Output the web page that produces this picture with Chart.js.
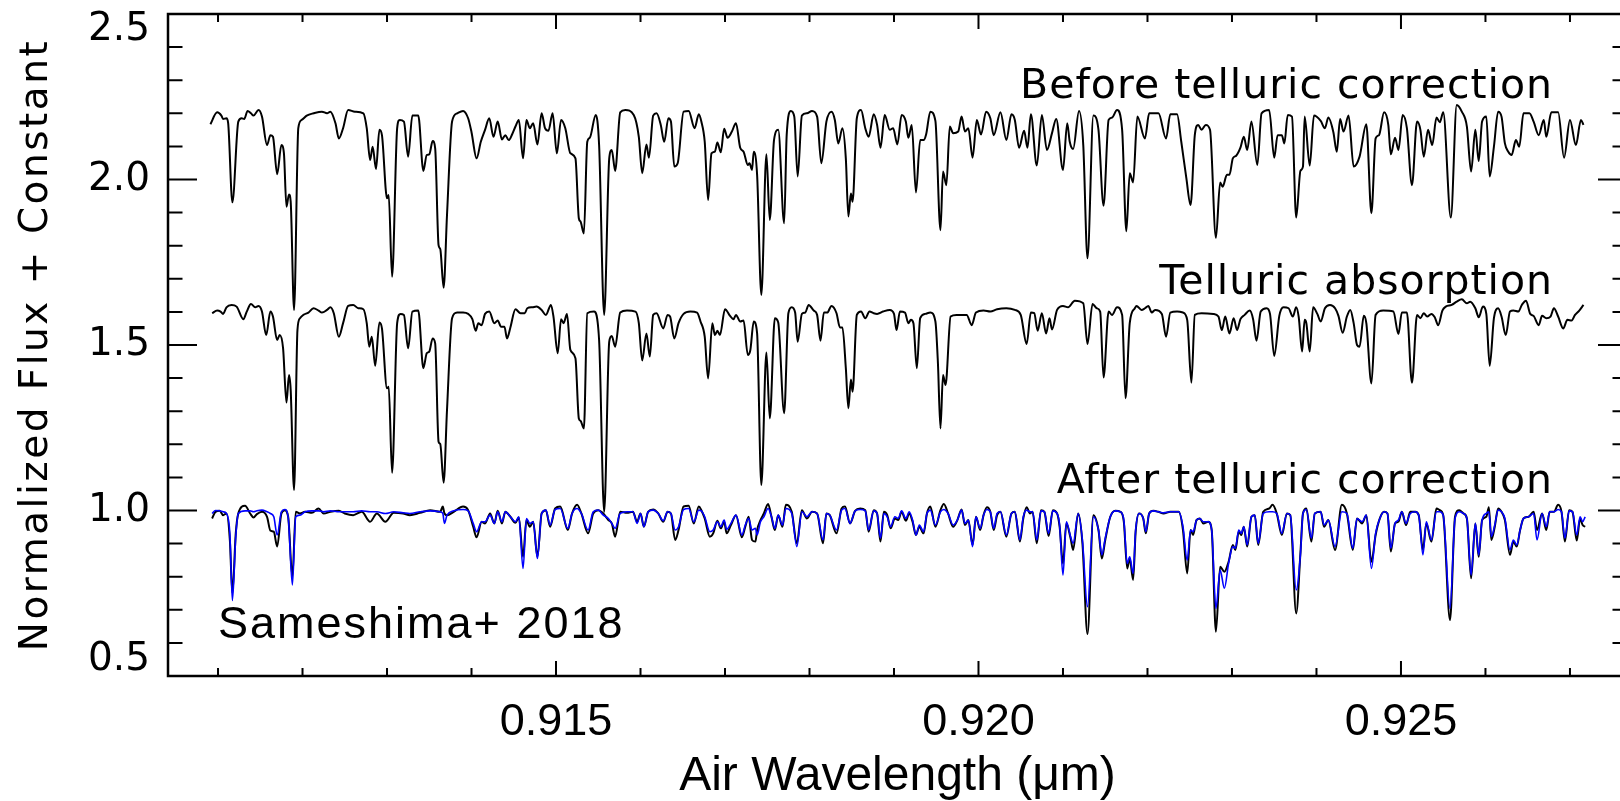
<!DOCTYPE html>
<html>
<head>
<meta charset="utf-8">
<title>Telluric correction</title>
<script src="https://cdn.jsdelivr.net/npm/chart.js@4.4.1/dist/chart.umd.min.js"></script>
<style>
  html, body { margin: 0; padding: 0; background: #fff; overflow: hidden; }
  #wrap { width: 1630px; height: 801px; }
</style>
</head>
<body>
<div id="wrap"><canvas id="spectrum" width="1630" height="801"></canvas></div>
<script>
// [air wavelength (um), normalized flux + constant]
const beforeCorrection = [
  [0.91091,2.167],[0.91099,2.203],[0.91104,2.193],[0.91106,2.183],[0.91110,2.185],[0.91112,2.170],[0.91117,1.931],[0.91124,2.175],
  [0.91128,2.185],[0.91131,2.183],[0.91135,2.207],[0.91139,2.200],[0.91142,2.193],[0.91148,2.210],[0.91152,2.190],[0.91158,2.104],
  [0.91162,2.134],[0.91165,2.129],[0.91170,2.016],[0.91175,2.104],[0.91178,2.079],[0.91181,1.918],[0.91184,1.955],[0.91186,1.933],
  [0.91190,1.606],[0.91195,2.155],[0.91199,2.180],[0.91205,2.193],[0.91213,2.200],[0.91223,2.205],[0.91229,2.200],[0.91233,2.205],
  [0.91239,2.170],[0.91243,2.124],[0.91248,2.155],[0.91254,2.210],[0.91262,2.205],[0.91272,2.200],[0.91276,2.155],[0.91280,2.059],
  [0.91283,2.099],[0.91287,2.032],[0.91291,2.150],[0.91294,2.134],[0.91300,1.943],[0.91302,1.953],[0.91306,1.706],[0.91312,2.155],
  [0.91315,2.180],[0.91320,2.175],[0.91325,2.069],[0.91330,2.193],[0.91337,2.193],[0.91343,2.026],[0.91347,2.074],[0.91350,2.076],
  [0.91354,2.116],[0.91357,2.094],[0.91361,1.802],[0.91363,1.790],[0.91367,1.673],[0.91371,1.893],[0.91377,2.175],[0.91383,2.200],
  [0.91390,2.207],[0.91396,2.185],[0.91400,2.143],[0.91406,2.064],[0.91411,2.114],[0.91416,2.150],[0.91421,2.185],[0.91426,2.129],
  [0.91431,2.175],[0.91436,2.121],[0.91440,2.134],[0.91444,2.119],[0.91448,2.136],[0.91452,2.160],[0.91456,2.180],[0.91461,2.064],
  [0.91465,2.180],[0.91469,2.155],[0.91473,2.170],[0.91478,2.106],[0.91483,2.200],[0.91487,2.155],[0.91491,2.147],[0.91496,2.200],
  [0.91501,2.079],[0.91506,2.180],[0.91511,2.155],[0.91517,2.079],[0.91523,2.064],[0.91527,1.883],[0.91529,1.873],[0.91533,1.837],
  [0.91537,2.114],[0.91540,2.126],[0.91547,2.195],[0.91551,2.104],[0.91557,1.591],[0.91563,2.064],[0.91566,2.089],[0.91570,2.026],
  [0.91576,2.203],[0.91582,2.210],[0.91592,2.195],[0.91598,2.129],[0.91602,2.019],[0.91607,2.106],[0.91610,2.066],[0.91615,2.193],
  [0.91619,2.200],[0.91624,2.165],[0.91628,2.114],
  [0.91633,2.185],[0.91636,2.175],[0.91640,2.039],[0.91644,2.049],[0.91651,2.205],[0.91657,2.207],[0.91664,2.155],[0.91669,2.197],
  [0.91672,2.175],[0.91676,2.114],[0.91680,1.938],[0.91684,2.079],[0.91688,2.084],[0.91691,2.112],[0.91695,2.082],[0.91699,2.153],
  [0.91703,2.126],[0.91708,2.144],[0.91713,2.170],[0.91718,2.096],[0.91722,2.084],[0.91727,2.044],[0.91729,2.049],[0.91732,2.029],
  [0.91734,2.084],[0.91738,2.014],[0.91743,1.651],[0.91749,2.076],[0.91753,1.878],[0.91758,2.119],[0.91763,2.150],[0.91770,1.868],
  [0.91773,2.134],[0.91778,2.207],[0.91782,2.190],[0.91786,2.009],[0.91791,2.193],[0.91797,2.200],[0.91803,2.207],[0.91809,2.190],
  [0.91814,2.049],[0.91820,2.175],[0.91826,2.205],[0.91830,2.180],[0.91834,2.109],[0.91839,2.155],[0.91843,2.064],[0.91846,1.888],
  [0.91849,1.958],[0.91851,1.933],[0.91856,2.185],[0.91861,2.210],[0.91866,2.155],[0.91870,2.129],[0.91876,2.197],[0.91880,2.165],
  [0.91884,2.096],[0.91889,2.195],[0.91895,2.150],[0.91899,2.155],[0.91904,2.106],[0.91909,2.195],[0.91914,2.175],[0.91917,2.126],
  [0.91921,2.165],[0.91926,1.961],[0.91931,2.119],[0.91935,2.119],[0.91938,2.136],[0.91943,2.205],[0.91949,2.177],[0.91955,1.847],
  [0.91958,2.024],[0.91962,1.983],[0.91966,2.160],[0.91970,2.140],[0.91976,2.145],[0.91980,2.190],[0.91984,2.145],[0.91988,2.155],
  [0.91993,2.066],[0.91998,2.180],[0.92003,2.136],[0.92009,2.205],[0.92014,2.185],[0.92018,2.134],[0.92026,2.203],[0.92033,2.119],
  [0.92039,2.197],[0.92043,2.180],[0.92048,2.096],[0.92054,2.147],[0.92058,2.096],[0.92062,2.197],[0.92069,2.042],[0.92075,2.195],
  [0.92081,2.089],[0.92087,2.140],[0.92092,2.183],[0.92100,2.029],[0.92105,2.170],[0.92108,2.114],[0.92112,2.092],[0.92119,2.207],
  [0.92124,2.104],[0.92129,1.762],[0.92136,2.193],[0.92142,2.150],[0.92148,1.921],[0.92154,2.180],[0.92158,2.187],[0.92164,2.210],
  [0.92170,2.150],[0.92175,1.844],[0.92179,2.019],[0.92183,1.991],
  [0.92188,2.190],[0.92197,2.124],[0.92202,2.200],[0.92213,2.200],[0.92222,2.124],[0.92227,2.197],[0.92235,2.197],[0.92240,2.114],
  [0.92246,2.004],[0.92251,1.923],[0.92256,2.134],[0.92260,2.165],[0.92264,2.150],[0.92269,2.165],[0.92274,2.150],[0.92281,1.824],
  [0.92286,1.991],[0.92289,1.978],[0.92294,2.014],[0.92297,2.014],[0.92301,2.064],[0.92305,2.072],[0.92310,2.096],[0.92314,2.129],
  [0.92318,2.089],[0.92323,2.175],[0.92330,2.044],[0.92335,2.200],[0.92344,2.210],[0.92350,2.066],[0.92354,2.134],[0.92359,2.134],
  [0.92362,2.109],[0.92366,2.195],[0.92371,2.190],[0.92376,1.885],[0.92381,2.026],[0.92384,2.039],[0.92386,2.190],[0.92392,2.042],
  [0.92397,2.193],[0.92405,2.177],[0.92410,2.155],[0.92414,2.187],[0.92420,2.143],[0.92424,2.084],[0.92428,2.183],[0.92432,2.145],
  [0.92438,2.193],[0.92444,2.039],[0.92451,2.069],[0.92459,2.167],[0.92465,1.898],[0.92470,2.124],[0.92474,2.134],[0.92480,2.203],
  [0.92485,2.165],[0.92488,2.076],[0.92493,2.126],[0.92497,2.089],[0.92502,2.195],[0.92507,2.155],[0.92513,1.983],[0.92519,2.175],
  [0.92523,2.150],[0.92527,2.069],[0.92532,2.150],[0.92537,2.104],[0.92542,2.187],[0.92546,2.173],[0.92550,2.203],[0.92559,1.885],
  [0.92566,2.225],[0.92572,2.205],[0.92578,2.160],[0.92583,2.024],[0.92588,2.150],[0.92592,2.056],[0.92596,2.175],[0.92601,2.190],
  [0.92605,2.009],[0.92610,2.099],[0.92615,2.205],[0.92619,2.190],[0.92623,2.109],[0.92627,2.084],[0.92631,2.074],[0.92636,2.119],
  [0.92640,2.099],[0.92645,2.200],[0.92652,2.200],[0.92657,2.175],[0.92663,2.134],[0.92669,2.180],[0.92672,2.129],[0.92678,2.203],
  [0.92686,2.203],[0.92693,2.066],[0.92700,2.180],[0.92707,2.104],[0.92713,2.180],[0.92716,2.165]
];

const telluricAbsorption = [
  [0.91093,1.596],[0.91099,1.604],[0.91103,1.601],[0.91106,1.594],[0.91110,1.614],[0.91116,1.621],[0.91122,1.616],[0.91130,1.578],
  [0.91134,1.601],[0.91139,1.624],[0.91144,1.614],[0.91148,1.618],[0.91152,1.601],[0.91157,1.530],[0.91162,1.601],[0.91165,1.586],
  [0.91170,1.515],[0.91173,1.530],[0.91177,1.490],[0.91181,1.326],[0.91184,1.409],[0.91186,1.364],[0.91190,1.062],[0.91194,1.545],
  [0.91197,1.581],[0.91201,1.591],[0.91207,1.598],[0.91213,1.611],[0.91219,1.604],[0.91223,1.598],[0.91229,1.606],[0.91233,1.614],
  [0.91237,1.596],[0.91243,1.525],[0.91248,1.566],[0.91254,1.618],[0.91260,1.621],[0.91266,1.611],[0.91272,1.608],[0.91276,1.566],
  [0.91279,1.495],[0.91282,1.525],[0.91286,1.437],[0.91291,1.568],[0.91294,1.550],[0.91300,1.369],[0.91302,1.374],[0.91306,1.114],
  [0.91312,1.566],[0.91316,1.594],[0.91320,1.591],[0.91325,1.490],[0.91330,1.601],[0.91337,1.604],[0.91343,1.430],[0.91347,1.475],
  [0.91350,1.480],[0.91354,1.520],[0.91357,1.505],[0.91361,1.208],[0.91363,1.201],[0.91367,1.084],[0.91371,1.304],[0.91377,1.581],
  [0.91383,1.598],[0.91390,1.598],[0.91396,1.594],[0.91401,1.578],[0.91405,1.543],[0.91408,1.566],[0.91412,1.560],[0.91416,1.594],
  [0.91421,1.601],[0.91427,1.566],[0.91431,1.574],[0.91435,1.555],[0.91439,1.555],[0.91442,1.520],[0.91446,1.553],[0.91452,1.608],
  [0.91458,1.596],[0.91463,1.596],[0.91466,1.611],[0.91472,1.614],[0.91477,1.616],[0.91483,1.606],[0.91488,1.591],[0.91494,1.621],
  [0.91497,1.586],[0.91502,1.475],[0.91506,1.578],[0.91509,1.566],[0.91513,1.594],[0.91517,1.485],[0.91523,1.460],[0.91527,1.278],
  [0.91529,1.271],[0.91533,1.248],[0.91537,1.596],[0.91545,1.601],[0.91551,1.515],[0.91557,0.996],[0.91563,1.510],[0.91566,1.527],
  [0.91570,1.495],[0.91576,1.598],[0.91584,1.604],[0.91594,1.601],[0.91598,1.566],[0.91602,1.453],[0.91607,1.535],[0.91611,1.465],
  [0.91615,1.591],[0.91619,1.596],[0.91627,1.550],
  [0.91632,1.591],[0.91635,1.586],[0.91640,1.520],[0.91645,1.566],[0.91651,1.594],[0.91659,1.601],[0.91667,1.598],[0.91671,1.571],
  [0.91676,1.525],[0.91680,1.399],[0.91685,1.566],[0.91688,1.530],[0.91691,1.543],[0.91694,1.530],[0.91700,1.608],[0.91706,1.588],
  [0.91710,1.578],[0.91713,1.591],[0.91718,1.571],[0.91722,1.574],[0.91727,1.470],[0.91730,1.485],[0.91734,1.571],[0.91738,1.535],
  [0.91743,1.077],[0.91749,1.477],[0.91753,1.278],[0.91759,1.581],[0.91763,1.568],[0.91770,1.294],[0.91775,1.596],[0.91779,1.614],
  [0.91783,1.598],[0.91786,1.510],[0.91791,1.594],[0.91795,1.598],[0.91799,1.621],[0.91805,1.604],[0.91809,1.591],[0.91813,1.513],
  [0.91817,1.598],[0.91821,1.598],[0.91826,1.618],[0.91832,1.596],[0.91836,1.553],[0.91839,1.553],[0.91843,1.430],[0.91846,1.309],
  [0.91849,1.396],[0.91851,1.359],[0.91856,1.591],[0.91861,1.601],[0.91866,1.581],[0.91871,1.601],[0.91876,1.596],[0.91880,1.594],
  [0.91887,1.601],[0.91895,1.606],[0.91900,1.594],[0.91903,1.545],[0.91907,1.601],[0.91913,1.598],[0.91917,1.566],[0.91920,1.576],
  [0.91923,1.566],[0.91927,1.430],[0.91931,1.581],[0.91937,1.594],[0.91943,1.598],[0.91949,1.571],[0.91952,1.445],[0.91955,1.248],
  [0.91958,1.409],[0.91961,1.379],[0.91967,1.586],[0.91974,1.591],[0.91980,1.591],[0.91986,1.591],[0.91992,1.560],[0.91997,1.598],
  [0.92006,1.604],[0.92014,1.601],[0.92022,1.608],[0.92033,1.611],[0.92043,1.606],[0.92050,1.591],[0.92057,1.503],[0.92062,1.598],
  [0.92066,1.596],[0.92070,1.543],[0.92075,1.596],[0.92080,1.535],[0.92084,1.581],[0.92087,1.547],[0.92093,1.606],[0.92100,1.618],
  [0.92106,1.614],[0.92114,1.634],[0.92124,1.626],[0.92129,1.503],[0.92135,1.624],[0.92140,1.611],[0.92144,1.601],[0.92148,1.402],
  [0.92154,1.601],[0.92158,1.591],[0.92164,1.614],[0.92170,1.591],[0.92174,1.339],[0.92179,1.566],[0.92185,1.611],
  [0.92187,1.618],[0.92193,1.606],[0.92197,1.611],[0.92201,1.618],[0.92205,1.598],[0.92209,1.606],[0.92217,1.594],[0.92222,1.525],
  [0.92227,1.598],[0.92235,1.601],[0.92242,1.598],[0.92247,1.576],[0.92252,1.386],[0.92256,1.591],[0.92264,1.596],[0.92278,1.594],
  [0.92284,1.586],[0.92288,1.545],[0.92292,1.586],[0.92297,1.535],[0.92302,1.581],[0.92306,1.545],[0.92310,1.578],[0.92315,1.591],
  [0.92321,1.604],[0.92325,1.578],[0.92329,1.513],[0.92334,1.601],[0.92341,1.611],[0.92345,1.594],[0.92350,1.467],[0.92356,1.588],
  [0.92361,1.614],[0.92367,1.611],[0.92372,1.586],[0.92376,1.614],[0.92379,1.584],[0.92383,1.480],[0.92386,1.576],[0.92388,1.566],
  [0.92392,1.480],[0.92396,1.614],[0.92401,1.594],[0.92405,1.571],[0.92410,1.611],[0.92416,1.621],[0.92422,1.611],[0.92426,1.588],
  [0.92431,1.537],[0.92436,1.586],[0.92440,1.606],[0.92444,1.566],[0.92448,1.500],[0.92451,1.495],[0.92456,1.588],[0.92459,1.566],
  [0.92465,1.384],[0.92470,1.591],[0.92479,1.604],[0.92491,1.601],[0.92497,1.533],[0.92501,1.598],[0.92507,1.598],[0.92513,1.386],
  [0.92519,1.591],[0.92523,1.581],[0.92527,1.596],[0.92531,1.586],[0.92536,1.594],[0.92540,1.584],[0.92544,1.560],[0.92549,1.604],
  [0.92553,1.616],[0.92560,1.621],[0.92566,1.631],[0.92572,1.638],[0.92578,1.626],[0.92582,1.631],[0.92588,1.611],[0.92592,1.584],
  [0.92597,1.616],[0.92601,1.594],[0.92605,1.437],[0.92610,1.581],[0.92615,1.611],[0.92619,1.586],[0.92624,1.530],[0.92629,1.601],
  [0.92633,1.604],[0.92639,1.601],[0.92643,1.621],[0.92648,1.634],[0.92653,1.594],[0.92657,1.588],[0.92663,1.560],[0.92667,1.588],
  [0.92672,1.581],[0.92677,1.586],[0.92681,1.611],[0.92686,1.586],[0.92692,1.550],[0.92697,1.576],[0.92702,1.574],[0.92706,1.591],
  [0.92711,1.604],[0.92716,1.621]
];

const afterCorrection = [
  [0.91093,0.976],[0.91097,0.996],[0.91102,0.999],[0.91106,0.986],[0.91110,0.991],[0.91114,0.911],[0.91117,0.750],[0.91121,0.931],
  [0.91124,0.991],[0.91132,1.014],[0.91138,0.991],[0.91142,0.979],[0.91146,0.989],[0.91152,0.996],[0.91158,0.981],[0.91162,0.939],
  [0.91166,0.936],[0.91170,0.891],[0.91175,0.991],[0.91179,1.001],[0.91183,0.981],[0.91188,0.800],[0.91192,0.996],[0.91197,0.991],
  [0.91203,0.996],[0.91211,0.993],[0.91219,1.006],[0.91225,0.991],[0.91233,0.996],[0.91243,0.999],[0.91250,0.991],[0.91260,0.986],
  [0.91270,0.996],[0.91280,0.966],[0.91288,0.991],[0.91298,0.966],[0.91308,0.993],[0.91319,0.991],[0.91327,0.986],[0.91339,0.993],
  [0.91351,1.001],[0.91363,0.996],[0.91366,1.012],[0.91368,0.991],[0.91371,0.986],[0.91379,0.996],[0.91390,1.012],[0.91396,1.001],
  [0.91402,0.951],[0.91406,0.919],[0.91412,0.966],[0.91416,0.961],[0.91422,0.991],[0.91427,0.961],[0.91431,0.999],[0.91436,0.961],
  [0.91440,0.996],[0.91446,0.981],[0.91452,0.963],[0.91456,0.979],[0.91461,0.860],[0.91465,0.971],[0.91469,0.951],[0.91473,0.966],
  [0.91478,0.860],[0.91483,0.991],[0.91488,1.001],[0.91493,0.951],[0.91499,1.006],[0.91505,1.012],[0.91514,0.941],[0.91519,0.991],
  [0.91525,1.017],[0.91530,0.991],[0.91538,0.931],[0.91544,0.991],[0.91550,1.001],[0.91556,0.991],[0.91562,0.971],[0.91566,0.961],
  [0.91570,0.921],[0.91576,0.996],[0.91584,0.993],[0.91591,0.996],[0.91596,0.966],[0.91600,0.991],[0.91604,0.951],[0.91609,0.996],
  [0.91615,1.003],[0.91621,0.991],[0.91627,0.966],
  [0.91632,0.996],[0.91636,0.991],[0.91641,0.911],[0.91645,0.941],[0.91651,1.012],[0.91657,1.014],[0.91663,0.961],[0.91669,1.012],
  [0.91672,1.001],[0.91676,0.976],[0.91682,0.921],[0.91686,0.931],[0.91691,0.969],[0.91695,0.946],[0.91699,0.966],[0.91702,0.931],
  [0.91707,0.956],[0.91713,0.986],[0.91720,0.919],[0.91724,0.951],[0.91728,0.981],[0.91732,0.911],[0.91736,0.906],[0.91738,0.941],
  [0.91742,0.971],[0.91746,0.991],[0.91751,1.020],[0.91755,0.981],[0.91759,0.941],[0.91763,0.986],[0.91768,0.951],[0.91772,1.017],
  [0.91779,0.996],[0.91785,0.901],[0.91791,1.001],[0.91797,0.976],[0.91803,0.996],[0.91809,0.991],[0.91816,0.901],[0.91820,0.991],
  [0.91824,0.986],[0.91832,0.931],[0.91838,1.006],[0.91842,1.012],[0.91848,0.961],[0.91854,0.999],[0.91860,1.006],[0.91866,1.001],
  [0.91870,0.936],[0.91876,1.001],[0.91880,0.991],[0.91884,0.906],[0.91888,0.996],[0.91892,0.986],[0.91896,0.946],[0.91901,0.976],
  [0.91905,0.971],[0.91909,0.996],[0.91914,0.969],[0.91918,0.991],[0.91922,0.966],[0.91926,0.926],[0.91930,0.951],[0.91935,0.931],
  [0.91939,0.991],[0.91943,1.012],[0.91949,0.951],[0.91955,1.001],[0.91959,1.020],[0.91964,0.991],[0.91970,0.951],[0.91975,0.971],
  [0.91980,1.003],[0.91984,0.956],[0.91988,0.971],[0.91993,0.896],[0.91997,0.981],[0.92002,0.941],[0.92006,0.986],[0.92010,1.010],
  [0.92014,0.996],[0.92018,0.941],[0.92022,0.986],[0.92026,0.996],[0.92033,0.921],[0.92039,0.991],[0.92043,0.996],[0.92049,0.906],
  [0.92053,0.976],[0.92057,1.010],[0.92061,0.991],[0.92064,0.996],[0.92069,0.901],[0.92074,1.001],[0.92078,0.996],[0.92083,0.923],
  [0.92088,1.001],[0.92093,0.991],[0.92096,0.951],[0.92100,0.840],[0.92104,0.961],[0.92109,0.916],[0.92112,0.881],[0.92118,0.991],
  [0.92123,0.901],[0.92129,0.627],[0.92136,0.986],[0.92142,0.941],[0.92146,0.855],[0.92150,0.911],[0.92156,0.981],[0.92162,0.999],
  [0.92168,0.996],[0.92172,0.966],[0.92176,0.825],[0.92179,0.855],[0.92183,0.790],
  [0.92186,0.936],[0.92190,0.991],[0.92195,0.976],[0.92198,0.931],[0.92202,0.991],[0.92207,0.999],[0.92213,0.996],[0.92219,0.991],
  [0.92227,0.996],[0.92237,0.996],[0.92242,0.941],[0.92247,0.810],[0.92251,0.941],[0.92254,0.926],[0.92258,0.971],[0.92262,0.976],
  [0.92266,0.961],[0.92272,0.966],[0.92276,0.941],[0.92281,0.634],[0.92286,0.830],[0.92291,0.815],[0.92296,0.845],[0.92301,0.896],
  [0.92304,0.881],[0.92308,0.936],[0.92311,0.926],[0.92314,0.951],[0.92318,0.891],[0.92323,0.981],[0.92327,0.986],[0.92331,0.896],
  [0.92337,0.996],[0.92344,1.006],[0.92348,1.017],[0.92353,0.991],[0.92359,0.926],[0.92365,0.991],[0.92369,0.986],[0.92376,0.689],
  [0.92381,0.871],[0.92384,0.991],[0.92388,1.006],[0.92394,0.906],[0.92398,0.991],[0.92405,0.996],[0.92409,0.951],[0.92414,0.971],
  [0.92422,0.881],[0.92430,1.017],[0.92436,0.991],[0.92443,0.881],[0.92448,0.976],[0.92454,0.961],[0.92459,0.986],[0.92465,0.845],
  [0.92470,0.926],[0.92475,0.976],[0.92480,0.996],[0.92484,0.991],[0.92488,0.876],[0.92493,0.961],[0.92497,0.966],[0.92501,0.996],
  [0.92506,0.956],[0.92511,0.996],[0.92517,0.996],[0.92521,0.986],[0.92526,0.881],[0.92530,0.961],[0.92536,0.906],[0.92542,1.006],
  [0.92546,1.001],[0.92550,0.986],[0.92558,0.669],[0.92564,0.981],[0.92569,1.001],[0.92574,0.991],[0.92578,0.976],[0.92583,0.795],
  [0.92588,0.961],[0.92592,0.860],[0.92596,0.971],[0.92601,0.981],[0.92604,1.010],[0.92607,0.911],[0.92611,0.951],[0.92615,1.006],
  [0.92619,0.996],[0.92623,0.971],[0.92629,0.866],[0.92633,0.906],[0.92637,0.891],[0.92641,0.941],[0.92645,0.976],[0.92651,0.981],
  [0.92657,0.996],[0.92661,0.941],[0.92667,0.991],[0.92672,0.941],[0.92676,0.996],[0.92681,0.996],[0.92686,1.017],[0.92690,0.996],
  [0.92694,0.906],[0.92699,1.001],[0.92703,0.996],[0.92708,0.909],[0.92712,0.976],[0.92715,0.956],[0.92718,0.951]
];

// blue curve over the corrected spectrum
const afterModel = [
  [0.91093,0.991],[0.91097,1.000],[0.91102,0.999],[0.91106,0.996],[0.91110,0.991],[0.91114,0.931],[0.91117,0.728],[0.91121,0.921],
  [0.91124,0.991],[0.91132,0.999],[0.91138,0.999],[0.91142,0.996],[0.91146,0.999],[0.91152,1.001],[0.91158,0.996],[0.91162,0.991],
  [0.91166,0.981],[0.91170,0.926],[0.91175,0.996],[0.91179,1.003],[0.91183,0.981],[0.91188,0.775],[0.91192,0.981],[0.91197,0.986],
  [0.91203,0.996],[0.91211,0.999],[0.91219,0.999],[0.91225,0.996],[0.91233,0.999],[0.91243,0.996],[0.91250,0.996],[0.91260,0.996],
  [0.91270,0.999],[0.91280,0.996],[0.91288,0.996],[0.91298,0.991],[0.91308,0.996],[0.91319,0.993],[0.91327,0.991],[0.91339,0.996],
  [0.91351,0.999],[0.91363,0.996],[0.91366,0.991],[0.91368,0.961],[0.91371,0.986],[0.91379,0.999],[0.91390,1.003],[0.91396,0.999],
  [0.91402,0.961],[0.91406,0.936],[0.91412,0.966],[0.91416,0.966],[0.91422,0.986],[0.91427,0.961],[0.91431,0.996],[0.91436,0.966],
  [0.91440,0.996],[0.91446,0.981],[0.91452,0.966],[0.91456,0.981],[0.91461,0.825],[0.91465,0.976],[0.91469,0.961],[0.91473,0.966],
  [0.91478,0.855],[0.91483,0.991],[0.91488,1.001],[0.91493,0.956],[0.91499,1.003],[0.91505,1.006],[0.91514,0.946],[0.91519,0.991],
  [0.91525,1.006],[0.91530,0.991],[0.91538,0.941],[0.91544,0.996],[0.91550,1.001],[0.91556,0.986],[0.91562,0.976],[0.91566,0.961],
  [0.91570,0.946],[0.91576,0.991],[0.91584,0.996],[0.91591,0.996],[0.91596,0.961],[0.91600,0.991],[0.91604,0.951],[0.91609,0.996],
  [0.91615,1.001],[0.91621,0.991],[0.91627,0.969],
  [0.91632,0.996],[0.91636,0.991],[0.91641,0.941],[0.91645,0.951],[0.91651,1.003],[0.91657,1.006],[0.91663,0.966],[0.91669,1.001],
  [0.91672,0.999],[0.91676,0.981],[0.91682,0.936],[0.91686,0.941],[0.91691,0.966],[0.91695,0.951],[0.91699,0.971],[0.91702,0.943],
  [0.91707,0.961],[0.91713,0.986],[0.91720,0.926],[0.91724,0.956],[0.91728,0.976],[0.91732,0.941],[0.91736,0.946],[0.91738,0.926],
  [0.91742,0.966],[0.91746,0.981],[0.91751,1.006],[0.91755,0.981],[0.91759,0.946],[0.91763,0.986],[0.91768,0.956],[0.91772,1.006],
  [0.91779,0.991],[0.91785,0.891],[0.91791,0.996],[0.91797,0.981],[0.91803,0.996],[0.91809,0.991],[0.91816,0.911],[0.91820,0.991],
  [0.91824,0.986],[0.91832,0.941],[0.91838,1.001],[0.91842,1.006],[0.91848,0.961],[0.91854,0.999],[0.91860,1.003],[0.91866,0.999],
  [0.91870,0.941],[0.91876,0.999],[0.91880,0.991],[0.91884,0.916],[0.91888,0.991],[0.91892,0.981],[0.91896,0.951],[0.91901,0.981],
  [0.91905,0.976],[0.91909,0.999],[0.91914,0.976],[0.91918,0.996],[0.91922,0.971],[0.91926,0.926],[0.91930,0.956],[0.91935,0.936],
  [0.91939,0.991],[0.91943,1.001],[0.91949,0.956],[0.91955,0.996],[0.91959,1.003],[0.91964,0.991],[0.91970,0.956],[0.91975,0.971],
  [0.91980,1.001],[0.91984,0.961],[0.91988,0.971],[0.91993,0.891],[0.91997,0.981],[0.92002,0.946],[0.92006,0.986],[0.92010,1.003],
  [0.92014,0.996],[0.92018,0.946],[0.92022,0.991],[0.92026,0.996],[0.92033,0.926],[0.92039,0.991],[0.92043,0.996],[0.92049,0.911],
  [0.92053,0.981],[0.92057,1.001],[0.92061,0.996],[0.92064,0.996],[0.92069,0.911],[0.92074,0.999],[0.92078,0.996],[0.92083,0.931],
  [0.92088,0.999],[0.92093,0.991],[0.92096,0.956],[0.92100,0.805],[0.92104,0.966],[0.92109,0.921],[0.92112,0.901],[0.92118,0.991],
  [0.92123,0.911],[0.92129,0.709],[0.92136,0.981],[0.92142,0.941],[0.92146,0.866],[0.92150,0.916],[0.92156,0.981],[0.92162,0.999],
  [0.92168,0.996],[0.92172,0.971],[0.92176,0.840],[0.92179,0.860],[0.92183,0.810],
  [0.92186,0.941],[0.92190,0.991],[0.92195,0.976],[0.92198,0.936],[0.92202,0.991],[0.92207,0.999],[0.92213,0.996],[0.92219,0.993],
  [0.92227,0.996],[0.92237,0.996],[0.92242,0.951],[0.92247,0.850],[0.92251,0.941],[0.92254,0.936],[0.92258,0.971],[0.92262,0.976],
  [0.92266,0.966],[0.92272,0.966],[0.92276,0.941],[0.92281,0.704],[0.92286,0.820],[0.92291,0.765],[0.92296,0.840],[0.92301,0.891],
  [0.92304,0.886],[0.92308,0.941],[0.92311,0.931],[0.92314,0.951],[0.92318,0.896],[0.92323,0.981],[0.92327,0.986],[0.92331,0.901],
  [0.92337,0.991],[0.92344,0.996],[0.92348,0.996],[0.92353,0.991],[0.92359,0.931],[0.92365,0.991],[0.92369,0.986],[0.92376,0.760],
  [0.92381,0.866],[0.92384,0.991],[0.92388,1.003],[0.92394,0.916],[0.92398,0.991],[0.92405,0.996],[0.92409,0.956],[0.92414,0.971],
  [0.92422,0.891],[0.92430,0.996],[0.92436,0.991],[0.92443,0.886],[0.92448,0.976],[0.92454,0.966],[0.92459,0.986],[0.92465,0.825],
  [0.92470,0.931],[0.92475,0.976],[0.92480,0.996],[0.92484,0.991],[0.92488,0.886],[0.92493,0.961],[0.92497,0.971],[0.92501,0.996],
  [0.92506,0.961],[0.92511,0.991],[0.92517,0.996],[0.92521,0.986],[0.92526,0.866],[0.92530,0.966],[0.92536,0.911],[0.92542,0.996],
  [0.92546,0.996],[0.92550,0.986],[0.92558,0.704],[0.92564,0.976],[0.92569,0.996],[0.92574,0.991],[0.92578,0.976],[0.92583,0.805],
  [0.92588,0.961],[0.92592,0.866],[0.92596,0.971],[0.92601,0.991],[0.92604,0.996],[0.92607,0.921],[0.92611,0.956],[0.92615,1.001],
  [0.92619,0.996],[0.92623,0.976],[0.92629,0.881],[0.92633,0.911],[0.92637,0.896],[0.92641,0.941],[0.92645,0.976],[0.92651,0.981],
  [0.92657,0.991],[0.92661,0.911],[0.92667,0.991],[0.92672,0.951],[0.92676,0.996],[0.92681,0.996],[0.92686,1.003],[0.92690,0.996],
  [0.92694,0.916],[0.92699,0.999],[0.92703,0.996],[0.92708,0.926],[0.92712,0.981],[0.92715,0.966],[0.92718,0.981]
];

const xLabelTicks = [0.915, 0.920, 0.925];
const xMinorTicks = [0.911, 0.912, 0.913, 0.914, 0.915, 0.916, 0.917, 0.918, 0.919, 0.920, 0.921, 0.922, 0.923, 0.924, 0.925, 0.926, 0.927];
const yLabelTicks = [0.5, 1.0, 1.5, 2.0, 2.5];

const GEO = '"DejaVu Sans ExtraLight", "DejaVu Sans", Verdana, sans-serif';
const HELV = '"Liberation Sans", Arial, Helvetica, sans-serif';

// text labels placed in data coordinates
const notes = [
  { text: 'Before telluric correction', x: 0.92680, y: 2.246, align: 'right', font: '41px ' + GEO, spacing: '1px' },
  { text: 'Telluric absorption', x: 0.92680, y: 1.654, align: 'right', font: '41px ' + GEO, spacing: '1px' },
  { text: 'After telluric correction', x: 0.92680, y: 1.053, align: 'right', font: '41px ' + GEO, spacing: '1px' },
  { text: 'Sameshima+ 2018', x: 0.91100, y: 0.615, align: 'left', font: '45px ' + HELV, spacing: '2px' }
];

const toPoints = arr => arr.map(([x, y]) => ({ x, y }));

// frame, inward ticks on all four sides, free text
const framePlugin = {
  id: 'framePlugin',
  afterDraw(chart) {
    const { ctx, chartArea: a, scales: { x, y } } = chart;
    ctx.save();
    ctx.strokeStyle = '#000';
    ctx.lineWidth = 2;
    ctx.beginPath();
    for (let i = 0; i <= 20; i++) {
      const v = 0.5 + i * 0.1;
      const py = y.getPixelForValue(v);
      const len = i % 5 === 0 ? 29 : 14.5;
      ctx.moveTo(a.left, py); ctx.lineTo(a.left + len, py);
      ctx.moveTo(a.right, py); ctx.lineTo(a.right - len, py);
    }
    xMinorTicks.forEach(v => {
      const px = x.getPixelForValue(v);
      const len = xLabelTicks.some(t => Math.abs(t - v) < 1e-6) ? 15 : 8;
      ctx.moveTo(px, a.bottom); ctx.lineTo(px, a.bottom - len);
      ctx.moveTo(px, a.top); ctx.lineTo(px, a.top + len);
    });
    ctx.stroke();
    ctx.lineWidth = 2.5;
    ctx.strokeRect(a.left, a.top, a.right - a.left, a.bottom - a.top);

    ctx.fillStyle = '#000';
    ctx.textBaseline = 'alphabetic';
    notes.forEach(n => {
      ctx.font = n.font;
      ctx.letterSpacing = n.spacing;
      ctx.textAlign = n.align;
      ctx.fillText(n.text, x.getPixelForValue(n.x), y.getPixelForValue(n.y));
    });

    // y axis title
    ctx.save();
    ctx.translate(47, (a.top + a.bottom) / 2);
    ctx.rotate(-Math.PI / 2);
    ctx.font = '39px ' + GEO;
    ctx.letterSpacing = '2.5px';
    ctx.textAlign = 'center';
    ctx.fillText('Normalized Flux + Constant', 0, 0);
    ctx.restore();
    ctx.restore();
  }
};

new Chart(document.getElementById('spectrum'), {
  type: 'line',
  data: {
    datasets: [
      { data: toPoints(afterModel), borderColor: '#0000ff', borderWidth: 1.6 },
      { data: toPoints(afterCorrection), borderColor: '#000', borderWidth: 2 },
      { data: toPoints(telluricAbsorption), borderColor: '#000', borderWidth: 2 },
      { data: toPoints(beforeCorrection), borderColor: '#000', borderWidth: 2 }
    ]
  },
  options: {
    responsive: false,
    animation: false,
    devicePixelRatio: 1,
    layout: { padding: { top: 14, right: 3, left: 0, bottom: 0 } },
    elements: {
      point: { radius: 0 },
      line: { cubicInterpolationMode: 'monotone', fill: false, borderJoinStyle: 'round' }
    },
    plugins: { legend: { display: false }, tooltip: { enabled: false } },
    scales: {
      x: {
        type: 'linear',
        min: 0.910408,
        max: 0.927675,
        grid: { display: false, drawTicks: false },
        border: { display: false },
        afterBuildTicks: s => { s.ticks = xLabelTicks.map(v => ({ value: v })); },
        afterFit: s => { s.height = 125; s.paddingLeft = 0; s.paddingRight = 0; },
        ticks: {
          padding: 20, color: '#000', maxRotation: 0, autoSkip: false,
          font: { family: HELV, size: 45 },
          callback: v => Number(v).toFixed(3)
        },
        title: {
          display: true, text: 'Air Wavelength (μm)', color: '#000', padding: 0,
          font: { family: HELV, size: 48, lineHeight: 1 }
        }
      },
      y: {
        min: 0.5,
        max: 2.5,
        grid: { display: false, drawTicks: false },
        border: { display: false },
        afterBuildTicks: s => { s.ticks = yLabelTicks.map(v => ({ value: v })); },
        afterFit: s => { s.width = 168; s.paddingTop = 0; s.paddingBottom = 0; },
        ticks: {
          padding: 18, color: '#000', autoSkip: false,
          font: { family: GEO, size: 39, lineHeight: 0.82 },
          callback: v => {
            if (v === 2.5) return ['', '2.5'];
            if (v === 0.5) return ['0.5', ''];
            return Number(v).toFixed(1);
          }
        }
      }
    }
  },
  plugins: [framePlugin]
});
</script>
</body>
</html>
